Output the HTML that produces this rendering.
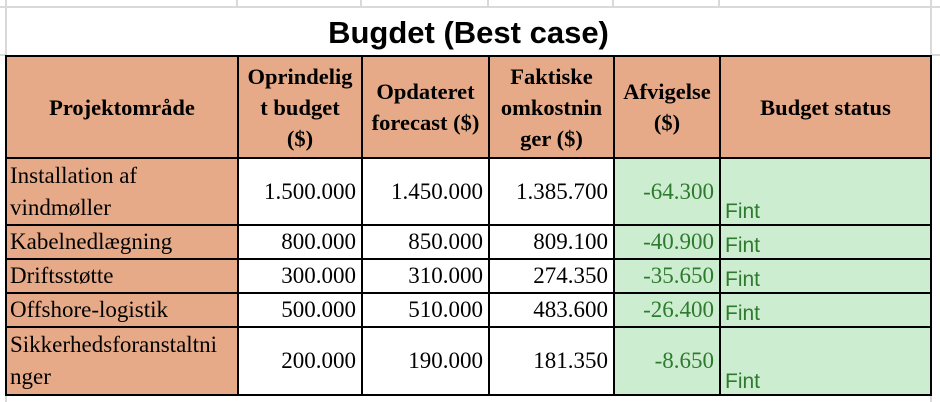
<!DOCTYPE html>
<html><head><meta charset="utf-8"><style>
body{margin:0;width:940px;height:402px;background:#fff;position:relative;overflow:hidden;font-family:"Liberation Serif",serif}
.g{position:absolute;background:#d9d9d9}
.c{position:absolute;box-sizing:border-box;border:2px solid #000;display:flex;overflow:hidden;white-space:nowrap}
.h{background:#e6aa88;font-weight:bold;font-size:22.5px;line-height:31px;text-align:center;align-items:center;justify-content:center}
.n{font-size:23px;align-items:center;justify-content:flex-end;padding-right:5px;background:#fff}
.p{background:#e6aa88;font-size:23px;line-height:32px;align-items:center;padding-left:3px}
.gr{background:#cdedd0;color:#2e7a2e}
.f{font-family:"Liberation Sans",sans-serif;font-size:21px;align-items:flex-end;padding-left:4px;padding-bottom:0px}
</style></head><body>
<div class="g" style="left:0;top:6px;width:940px;height:2px"></div>
<div class="g" style="left:5px;top:0;width:2px;height:402px"></div>
<div class="g" style="left:236px;top:0;width:2px;height:8px"></div>
<div class="g" style="left:360px;top:0;width:2px;height:8px"></div>
<div class="g" style="left:487px;top:0;width:2px;height:8px"></div>
<div class="g" style="left:612px;top:0;width:2px;height:8px"></div>
<div class="g" style="left:718px;top:0;width:2px;height:8px"></div>
<div class="g" style="left:930px;top:0;width:2px;height:402px"></div>
<div class="g" style="left:0;top:54px;width:5px;height:2px"></div>
<div class="g" style="left:932px;top:54px;width:8px;height:2px"></div>
<div style="position:absolute;left:7px;top:8px;width:923px;height:47px;background:#fff;text-align:center;font-family:'Liberation Sans',sans-serif;font-weight:bold;font-size:31px;line-height:50px">Bugdet (Best case)</div>

<div class="c h" style="left:5px;top:55px;width:234px;height:104px">Projektområde</div>
<div class="c h" style="left:237px;top:55px;width:126px;height:104px">Oprindelig<br>t budget<br>($)</div>
<div class="c h" style="left:361px;top:55px;width:129px;height:104px">Opdateret<br>forecast ($)</div>
<div class="c h" style="left:488px;top:55px;width:127px;height:104px">Faktiske<br>omkostnin<br>ger ($)</div>
<div class="c h" style="left:613px;top:55px;width:108px;height:104px">Afvigelse<br>($)</div>
<div class="c h" style="left:719px;top:55px;width:213px;height:104px">Budget status</div>

<div class="c p" style="left:5px;top:157px;width:234px;height:69px">Installation af<br>vindmøller</div>
<div class="c n" style="left:237px;top:157px;width:126px;height:69px">1.500.000</div>
<div class="c n" style="left:361px;top:157px;width:129px;height:69px">1.450.000</div>
<div class="c n" style="left:488px;top:157px;width:127px;height:69px">1.385.700</div>
<div class="c n gr" style="left:613px;top:157px;width:108px;height:69px">-64.300</div>
<div class="c gr f" style="left:719px;top:157px;width:213px;height:69px">Fint</div>

<div class="c p" style="left:5px;top:224px;width:234px;height:36px">Kabelnedlægning</div>
<div class="c n" style="left:237px;top:224px;width:126px;height:36px">800.000</div>
<div class="c n" style="left:361px;top:224px;width:129px;height:36px">850.000</div>
<div class="c n" style="left:488px;top:224px;width:127px;height:36px">809.100</div>
<div class="c n gr" style="left:613px;top:224px;width:108px;height:36px">-40.900</div>
<div class="c gr f" style="left:719px;top:224px;width:213px;height:36px">Fint</div>

<div class="c p" style="left:5px;top:258px;width:234px;height:36px">Driftsstøtte</div>
<div class="c n" style="left:237px;top:258px;width:126px;height:36px">300.000</div>
<div class="c n" style="left:361px;top:258px;width:129px;height:36px">310.000</div>
<div class="c n" style="left:488px;top:258px;width:127px;height:36px">274.350</div>
<div class="c n gr" style="left:613px;top:258px;width:108px;height:36px">-35.650</div>
<div class="c gr f" style="left:719px;top:258px;width:213px;height:36px">Fint</div>

<div class="c p" style="left:5px;top:292px;width:234px;height:36px">Offshore-logistik</div>
<div class="c n" style="left:237px;top:292px;width:126px;height:36px">500.000</div>
<div class="c n" style="left:361px;top:292px;width:129px;height:36px">510.000</div>
<div class="c n" style="left:488px;top:292px;width:127px;height:36px">483.600</div>
<div class="c n gr" style="left:613px;top:292px;width:108px;height:36px">-26.400</div>
<div class="c gr f" style="left:719px;top:292px;width:213px;height:36px">Fint</div>

<div class="c p" style="left:5px;top:326px;width:234px;height:70px">Sikkerhedsforanstaltni<br>nger</div>
<div class="c n" style="left:237px;top:326px;width:126px;height:70px">200.000</div>
<div class="c n" style="left:361px;top:326px;width:129px;height:70px">190.000</div>
<div class="c n" style="left:488px;top:326px;width:127px;height:70px">181.350</div>
<div class="c n gr" style="left:613px;top:326px;width:108px;height:70px">-8.650</div>
<div class="c gr f" style="left:719px;top:326px;width:213px;height:70px">Fint</div>
</body></html>
